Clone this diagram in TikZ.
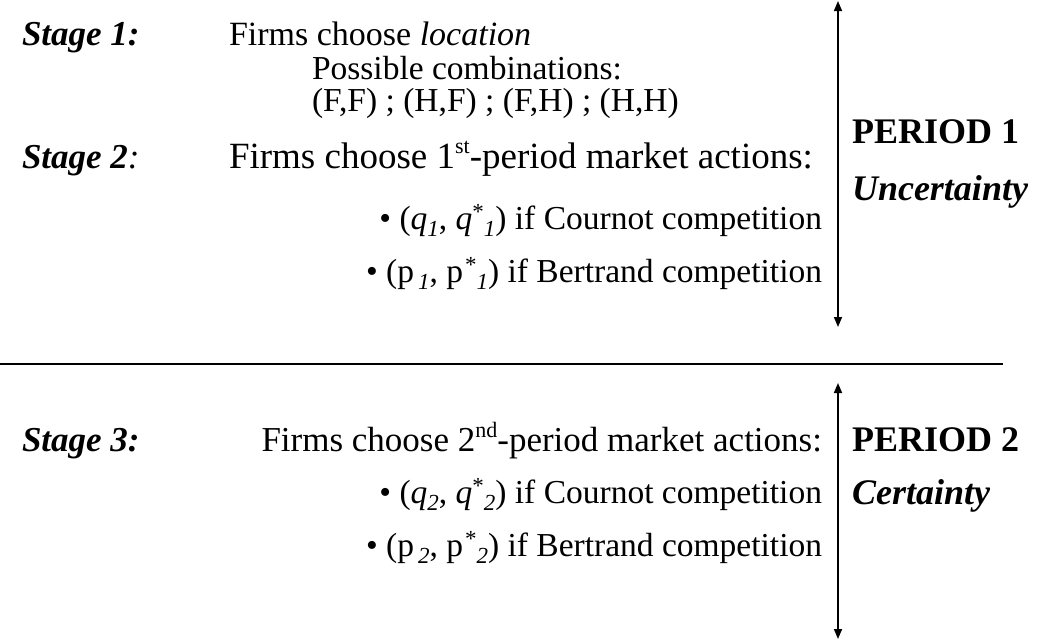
\documentclass[tikz,border=0pt]{standalone}
\usepackage{fontspec}
\setmainfont{Liberation Serif}
\usetikzlibrary{arrows.meta}
\newcommand{\mysub}[1]{\raisebox{-0.22em}{\fontsize{23}{23}\selectfont\itshape #1}}
\newcommand{\mystar}{\raisebox{0.28em}{\fontsize{23}{23}\selectfont *}}
\newcommand{\myord}[1]{\raisebox{0.38em}{\fontsize{22}{22}\selectfont #1}}
\tikzset{
  txt/.style={inner sep=0pt, outer sep=0pt, font=\fontsize{35}{35}\selectfont},
  small/.style={font=\fontsize{33.5}{33.5}\selectfont},
  mid/.style={font=\fontsize{33.5}{33.5}\selectfont},
  big/.style={font=\fontsize{36}{36}\selectfont},
  lft/.style={txt, anchor=base west},
  rgt/.style={txt, anchor=base east},
  period/.style={line width=1.6pt, {Triangle[width=8pt,length=10pt]}-{Triangle[width=8pt,length=10pt]}},
  rule/.style={line width=1.6pt}
}
\begin{document}
\begin{tikzpicture}[x=1pt,y=1pt]
\useasboundingbox (0,0) rectangle (1041,-640);
% Period 1
\node[lft] (s1) at (22,-45) {\textbf{\textit{Stage 1:}}};
\node[lft, font=\fontsize{34}{34}\selectfont] (f1) at (229,-45) {Firms choose \textit{location}};
\node[lft, small] (pc) at (312,-79) {Possible combinations:};
\node[lft, small] (cb) at (312,-111) {(F,F) ; (H,F) ; (F,H) ; (H,H)};
\node[lft] (s2) at (22,-168) {\textbf{\textit{Stage 2}}\textit{:}};
\node[lft, font=\fontsize{37}{37}\selectfont] (f2) at (229,-168) {Firms choose 1\myord{st}-period market actions:};
\node[rgt, mid] (c1) at (822,-229) {\textbullet\ (\textit{q}\mysub{1}, \textit{q}\mystar\mysub{1}) if Cournot competition};
\node[rgt, mid] (b1) at (822,-282) {\textbullet\ (p\kern4pt\mysub{1}, p\kern2pt\mystar\mysub{1}) if Bertrand competition};
\node[lft, big] (p1) at (852,-143) {\textbf{PERIOD 1}};
\node[lft, big] (u1) at (852,-200) {\textbf{\textit{Uncertainty}}};
% separator
\coordinate (l0) at (0,-364);
\coordinate (l1) at (1003,-364);
\draw[rule] (l0) -- (l1);
% Period 2
\node[lft] (s3) at (22,-451) {\textbf{\textit{Stage 3:}}};
\node[rgt] (f3) at (822,-451) {Firms choose 2\myord{nd}-period market actions:};
\node[rgt, mid] (c2) at (822,-503) {\textbullet\ (\textit{q}\mysub{2}, \textit{q}\mystar\mysub{2}) if Cournot competition};
\node[rgt, mid] (b2) at (822,-556) {\textbullet\ (p\kern4pt\mysub{2}, p\kern2pt\mystar\mysub{2}) if Bertrand competition};
\node[lft, big] (p2) at (852,-451) {\textbf{PERIOD 2}};
\node[lft, big] (u2) at (852,-504) {\textbf{\textit{Certainty}}};
% arrows
\coordinate (a1t) at (838,-1);
\coordinate (a1b) at (838,-327);
\coordinate (a2t) at (838,-383);
\coordinate (a2b) at (838,-639);
\draw[period] (a1t) -- (a1b);
\draw[period] (a2t) -- (a2b);
\end{tikzpicture}
\end{document}
